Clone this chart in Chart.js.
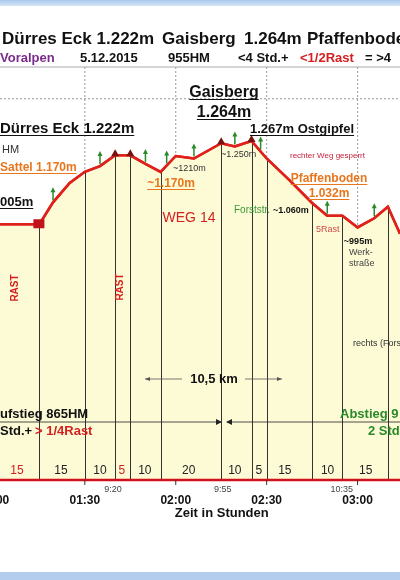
<!DOCTYPE html>
<html><head><meta charset="utf-8">
<script src="https://cdn.jsdelivr.net/npm/chart.js@4"></script>
<style>html,body{margin:0;padding:0;background:#fff}canvas{display:block}</style>
</head><body>
<div style="width:400px;height:580px"><canvas id="c"></canvas></div>
<script>
const minutes = [62,75,79.5,85,90,95,100,105,110,115,120,126,135,139.5,145,150,157.5,165,170,175,180,185.5,190,194];
const elevation = [1005,1005,1074,1135,1170,1188,1222,1222,1195,1170,1220,1212,1260,1250,1267,1212,1144,1072,1032,1032,995,1024,1060,975];
const dropMinutes = [75,90,100,105,115,135,145,150,165,175,190];
const summitMinutes = [100,105,135,145];
const greenMarkMinutes = [79.5,95,110,117,126,139.5,148,170,185.5];
const tickMinutes = [60,90,120,150,180];
const tickLabels = ['01:00','01:30','02:00','02:30','03:00'];
const gridElev = [1400];
const segLabels = ['15','15','10','5','10','20','10','5','15','10','15'];
const segMinutes = [67.6,82.1,95,102.2,109.8,124.3,139.5,147.4,156,170.1,182.7];
const segRed = [true,false,false,true,false,false,false,false,false,false,false];
const timeMinutes = [99.3,135.5,174.8];
const timeLabels = ['9:20','9:55','10:35'];

const pts = minutes.map((m,i)=>({x:m,y:elevation[i]}));
const elevAt = m => { for(let i=0;i<minutes.length-1;i++){ if(m>=minutes[i]&&m<=minutes[i+1]){const t=(m-minutes[i])/(minutes[i+1]-minutes[i]);return elevation[i]+t*(elevation[i+1]-elevation[i]);} } return elevation[elevation.length-1]; };

function txt(ctx,s,x,y,font,color,align,underline){
  ctx.font=font;ctx.fillStyle=color;ctx.textAlign=align||'left';ctx.textBaseline='alphabetic';
  ctx.fillText(s,x,y);
  if(underline){const w=ctx.measureText(s).width;let x0=x;if(align==='center')x0=x-w/2;else if(align==='right')x0=x-w;
    ctx.strokeStyle=color;ctx.lineWidth=1.2;ctx.beginPath();ctx.moveTo(x0,y+2.5);ctx.lineTo(x0+w,y+2.5);ctx.stroke();}
}
const F='Liberation Sans, Arial, sans-serif';

const deco = {
  id:'deco',
  beforeDraw(c){
    const ctx=c.ctx, xs=c.scales.x, ys=c.scales.y, a=c.chartArea;
    ctx.save();
    ctx.fillStyle='#fff';ctx.fillRect(0,0,400,580);
    let g=ctx.createLinearGradient(0,0,0,6);g.addColorStop(0,'#a9c8ec');g.addColorStop(1,'#d6e6f7');
    ctx.fillStyle=g;ctx.fillRect(0,0,400,6);
    ctx.fillStyle='#b3cdee';ctx.fillRect(0,572,400,8);
    ctx.strokeStyle='#999';ctx.lineWidth=1;ctx.setLineDash([2,2]);
    gridElev.forEach(e=>{const y=ys.getPixelForValue(e);ctx.beginPath();ctx.moveTo(a.left,y);ctx.lineTo(a.right,y);ctx.stroke();});
    tickMinutes.forEach(m=>{const x=xs.getPixelForValue(m);ctx.beginPath();ctx.moveTo(x,a.top);ctx.lineTo(x,ys.getPixelForValue(elevAt(m)));ctx.stroke();});
    ctx.setLineDash([]);
    ctx.strokeStyle='#aaa';ctx.beginPath();ctx.moveTo(0,a.top);ctx.lineTo(400,a.top);ctx.stroke();
    ctx.restore();
  },
  afterDatasetsDraw(c){
    const ctx=c.ctx, xs=c.scales.x, ys=c.scales.y, a=c.chartArea;
    ctx.save();
    ctx.strokeStyle='#333';ctx.lineWidth=1;
    dropMinutes.forEach(m=>{const x=Math.round(xs.getPixelForValue(m))+0.5;ctx.beginPath();ctx.moveTo(x,ys.getPixelForValue(elevAt(m)));ctx.lineTo(x,a.bottom);ctx.stroke();});
    ctx.strokeStyle='#e0201b';ctx.lineWidth=2.5;ctx.beginPath();
    pts.forEach((p,i)=>{const x=xs.getPixelForValue(p.x),y=ys.getPixelForValue(p.y);i?ctx.lineTo(x,y):ctx.moveTo(x,y);});ctx.stroke();
    // green markers
    ctx.strokeStyle='#2a8a2a';ctx.fillStyle='#2a8a2a';ctx.lineWidth=1.5;
    greenMarkMinutes.forEach(m=>{const x=xs.getPixelForValue(m),y=ys.getPixelForValue(elevAt(m));
      ctx.beginPath();ctx.moveTo(x,y-2);ctx.lineTo(x,y-12);ctx.stroke();
      ctx.beginPath();ctx.moveTo(x,y-15);ctx.lineTo(x-2.5,y-10);ctx.lineTo(x+2.5,y-10);ctx.fill();});
    ctx.fillStyle='#7a1010';
    summitMinutes.forEach(m=>{const x=xs.getPixelForValue(m),y=ys.getPixelForValue(elevAt(m));ctx.beginPath();ctx.moveTo(x,y-6);ctx.lineTo(x-4,y+1);ctx.lineTo(x+4,y+1);ctx.fill();});
    {const x=xs.getPixelForValue(75),y=ys.getPixelForValue(1005);ctx.fillStyle='#c0141a';ctx.fillRect(x-6,y-5,11,9);}
    ctx.strokeStyle='#d0101a';ctx.lineWidth=2.5;ctx.beginPath();ctx.moveTo(0,a.bottom);ctx.lineTo(400,a.bottom);ctx.stroke();
    ctx.strokeStyle='#333';ctx.lineWidth=1;
    tickMinutes.forEach((m,i)=>{const x=xs.getPixelForValue(m);ctx.beginPath();ctx.moveTo(x,a.bottom);ctx.lineTo(x,a.bottom+5);ctx.stroke();
      txt(ctx,tickLabels[i],x,a.bottom+24,'bold 12px '+F,'#111','center');});
    timeMinutes.forEach((m,i)=>txt(ctx,timeLabels[i],xs.getPixelForValue(m),a.bottom+12,'9px '+F,'#444','center'));
    segMinutes.forEach((m,i)=>txt(ctx,segLabels[i],xs.getPixelForValue(m),a.bottom-6,'12px '+F,segRed[i]?'#d42020':'#222','center'));
    txt(ctx,'Zeit in Stunden',xs.getPixelForValue(120)+46,a.bottom+37,'bold 13px '+F,'#111','center');
    txt(ctx,'Dürres Eck 1.222m',2,44,'bold 17px '+F,'#111','left');
    txt(ctx,'Gaisberg',162,44,'bold 17px '+F,'#111','left');
    txt(ctx,'1.264m',244,44,'bold 17px '+F,'#111','left');
    txt(ctx,'Pfaffenboden',307,44,'bold 17px '+F,'#111','left');
    txt(ctx,'Voralpen',0,62,'bold 13px '+F,'#7b2a8c','left');
    txt(ctx,'5.12.2015',80,62,'bold 13px '+F,'#111','left');
    txt(ctx,'955HM',168,62,'bold 13px '+F,'#111','left');
    txt(ctx,'<4 Std.+',238,62,'bold 13px '+F,'#111','left');
    txt(ctx,'<1/2Rast',300,62,'bold 13px '+F,'#d42020','left');
    txt(ctx,'= >4',365,62,'bold 13px '+F,'#111','left');
    txt(ctx,'Gaisberg',224,97,'bold 16px '+F,'#111','center',true);
    txt(ctx,'1.264m',224,117,'bold 16px '+F,'#111','center',true);
    txt(ctx,'Dürres Eck 1.222m',0,133,'bold 15px '+F,'#111','left',true);
    txt(ctx,'1.267m Ostgipfel',250,133,'bold 13px '+F,'#111','left',true);
    txt(ctx,'HM',2,153,'11px '+F,'#333','left');
    txt(ctx,'Sattel 1.170m',0,171,'bold 12px '+F,'#e8761c','left',true);
    txt(ctx,'005m',0,206,'bold 13px '+F,'#111','left',true);
    txt(ctx,'~1.170m',171,187,'bold 12px '+F,'#e8761c','center',true);
    txt(ctx,'~1210m',173,171,'9px '+F,'#333','left');
    txt(ctx,'~1.250m',221,157,'9px '+F,'#333','left');
    txt(ctx,'rechter Weg gesperrt',290,158,'8px '+F,'#c8203a','left');
    txt(ctx,'Pfaffenboden',329,182,'bold 12px '+F,'#e8761c','center',true);
    txt(ctx,'1.032m',329,197,'bold 12px '+F,'#e8761c','center',true);
    txt(ctx,'Forststr.',234,213,'10px '+F,'#3a9a3a','left');
    txt(ctx,'~1.060m',273,213,'bold 9px '+F,'#111','left');
    txt(ctx,'WEG 14',189,222,'14px '+F,'#d42020','center');
    txt(ctx,'5Rast',316,232,'9px '+F,'#c84a4a','left');
    txt(ctx,'~995m',358,244,'bold 9px '+F,'#111','center');
    txt(ctx,'Werk-',349,255,'9px '+F,'#444','left');
    txt(ctx,'straße',349,266,'9px '+F,'#444','left');
    [[18,288],[123,287]].forEach(p=>{ctx.save();ctx.translate(p[0],p[1]);ctx.rotate(-Math.PI/2);txt(ctx,'RAST',0,0,'bold 10px '+F,'#d42020','center');ctx.restore();});
    txt(ctx,'rechts (Forststr.)',353,346,'9px '+F,'#333','left');
    txt(ctx,'10,5 km',214,383,'bold 13px '+F,'#111','center');
    ctx.strokeStyle='#555';ctx.lineWidth=0.8;ctx.fillStyle='#555';
    ctx.beginPath();ctx.moveTo(145,379);ctx.lineTo(182,379);ctx.moveTo(245,379);ctx.lineTo(282,379);ctx.stroke();
    ctx.beginPath();ctx.moveTo(145,379);ctx.lineTo(150,377);ctx.lineTo(150,381);ctx.fill();
    ctx.beginPath();ctx.moveTo(282,379);ctx.lineTo(277,377);ctx.lineTo(277,381);ctx.fill();
    txt(ctx,'ufstieg 865HM',0,418,'bold 13px '+F,'#111','left');
    txt(ctx,'Std.+',0,435,'bold 13px '+F,'#111','left');
    txt(ctx,'> 1/4Rast',35,435,'bold 13px '+F,'#d42020','left');
    txt(ctx,'Abstieg 9',340,418,'bold 13px '+F,'#2a8a2a','left');
    txt(ctx,'2 Std',368,435,'bold 13px '+F,'#2a8a2a','left');
    ctx.strokeStyle='#222';ctx.lineWidth=0.8;ctx.fillStyle='#222';
    ctx.beginPath();ctx.moveTo(0,422);ctx.lineTo(221,422);ctx.moveTo(227,422);ctx.lineTo(400,422);ctx.stroke();
    ctx.beginPath();ctx.moveTo(222,422);ctx.lineTo(216,419);ctx.lineTo(216,425);ctx.fill();
    ctx.beginPath();ctx.moveTo(226,422);ctx.lineTo(232,419);ctx.lineTo(232,425);ctx.fill();
    ctx.restore();
  }
};

new Chart(document.getElementById('c'),{
  type:'line',
  data:{datasets:[{data:pts,borderColor:'#e0201b',borderWidth:2.5,backgroundColor:'#fdfbd6',fill:'start',pointRadius:0,tension:0}]},
  options:{responsive:true,maintainAspectRatio:false,animation:false,
    layout:{padding:{top:67,bottom:100,left:0,right:0}},
    plugins:{legend:{display:false},tooltip:{enabled:false}},
    scales:{x:{type:'linear',min:62,max:194,display:false},y:{min:200,max:1500,display:false}}},
  plugins:[deco]
});
</script></body></html>
